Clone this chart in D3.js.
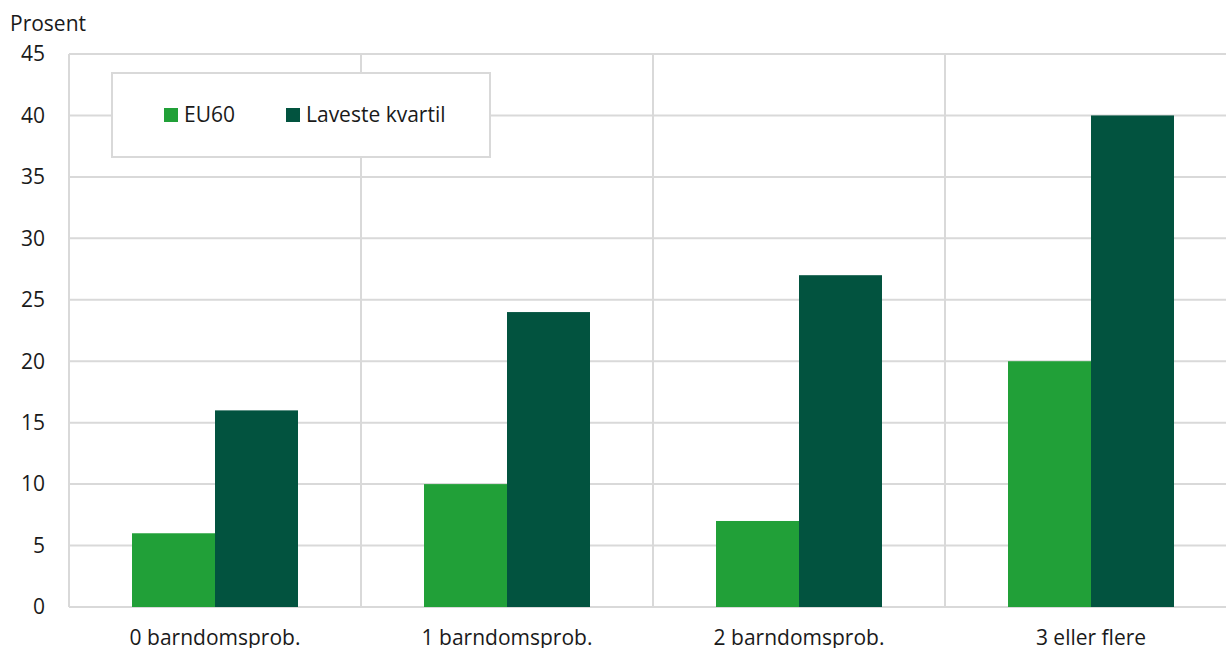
<!DOCTYPE html>
<html><head><meta charset="utf-8">
<script src="https://cdn.jsdelivr.net/npm/d3@7"></script>
<style>body{margin:0;background:#fff;}svg{display:block;font-family:"Open Sans","Noto Sans",sans-serif;}</style>
</head><body><svg id="c" width="1226" height="648"></svg>
<script>
const categories = ["0 barndomsprob.", "1 barndomsprob.", "2 barndomsprob.", "3 eller flere"];
const seriesNames = ["EU60", "Laveste kvartil"];
const eu60 = [6, 10, 7, 20];
const lavesteKvartil = [16, 24, 27, 40];
const yTicks = [0, 5, 10, 15, 20, 25, 30, 35, 40, 45];
const colors = ["#21a038", "#02533f"];

(function () {
const svg = d3.select("#c");
const fs = 21;
const pLeft = 69, pRight = 1237, pTop = 54, pBottom = 607;
const x0 = d3.scaleBand().domain(categories).range([pLeft, pRight]).padding(0);
const x1 = d3.scaleBand().domain(seriesNames).range([0, 166]).padding(0);
const y = d3.scaleLinear().domain([0, 45]).range([pBottom, pTop]);
const grid = "#d9d9d9";

svg.append("g").selectAll("line").data(yTicks).join("line")
  .attr("x1", pLeft).attr("x2", pRight)
  .attr("y1", d => y(d)).attr("y2", d => y(d))
  .attr("stroke", grid).attr("stroke-width", 2);
svg.append("g").selectAll("line").data(categories).join("line")
  .attr("x1", d => x0(d)).attr("x2", d => x0(d))
  .attr("y1", pTop).attr("y2", pBottom)
  .attr("stroke", grid).attr("stroke-width", 2);

svg.append("g").selectAll("text").data(yTicks).join("text")
  .attr("x", 45).attr("y", d => y(d)).attr("dy", "0.35em")
  .attr("text-anchor", "end").attr("font-size", fs).attr("fill", "#1a1a1a")
  .text(d => d);
svg.append("text").attr("x", 10).attr("y", 31).attr("font-size", fs).attr("fill", "#1a1a1a").text("Prosent");

const data = categories.map((c, i) => ({c, vals: [eu60[i], lavesteKvartil[i]]}));
const g = svg.append("g").selectAll("g").data(data).join("g")
  .attr("transform", d => `translate(${x0(d.c) + (x0.bandwidth() - 166) / 2},0)`);
g.selectAll("rect").data(d => d.vals.map((v, j) => ({s: seriesNames[j], v, j}))).join("rect")
  .attr("x", d => x1(d.s)).attr("width", x1.bandwidth())
  .attr("y", d => y(d.v)).attr("height", d => y(0) - y(d.v))
  .attr("fill", d => colors[d.j]);

svg.append("g").selectAll("text").data(categories).join("text")
  .attr("x", d => x0(d) + x0.bandwidth() / 2).attr("y", 645)
  .attr("text-anchor", "middle").attr("font-size", fs).attr("fill", "#1a1a1a")
  .text(d => d);

const lg = svg.append("g");
lg.append("rect").attr("x", 112).attr("y", 73).attr("width", 378).attr("height", 84)
  .attr("fill", "#fff").attr("stroke", grid).attr("stroke-width", 2);
const lx = [164, 286];
seriesNames.forEach((s, i) => {
  lg.append("rect").attr("x", lx[i]).attr("y", 108).attr("width", 14).attr("height", 14).attr("fill", colors[i]);
  lg.append("text").attr("x", lx[i] + 20).attr("y", 115).attr("dy", "0.35em")
    .attr("font-size", fs).attr("fill", "#1a1a1a").text(s);
});
})();
</script></body></html>
